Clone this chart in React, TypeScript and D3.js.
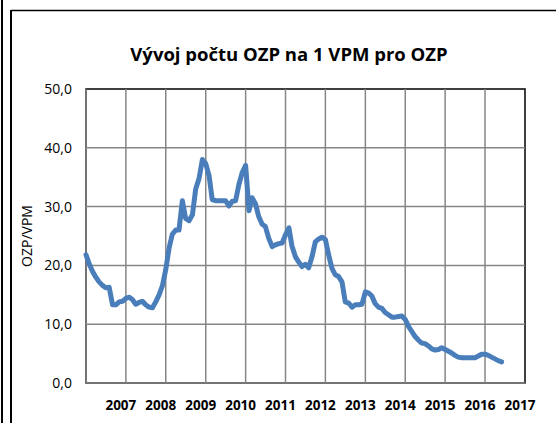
import { useEffect, useRef } from 'react';
import * as d3 from 'd3';

// monthly values, first point = January 2006
const startYear = 2006;
const ratio2006 = [21.8, 20.2, 19.0, 18.0, 17.2, 16.6, 16.2, 16.3, 13.3, 13.3, 13.8, 13.9];
const ratio2007 = [14.4, 14.6, 14.2, 13.4, 13.7, 13.9, 13.3, 12.9, 12.8, 13.8, 15.0, 16.5];
const ratio2008 = [19.3, 23.0, 25.3, 26.0, 26.0, 31.0, 28.0, 27.6, 28.6, 33.0, 34.8, 38.0];
const ratio2009 = [37.3, 35.2, 31.2, 31.0, 31.0, 31.0, 31.0, 30.1, 30.9, 31.0, 33.8, 35.8];
const ratio2010 = [37.0, 29.3, 31.5, 30.5, 28.3, 27.0, 26.6, 24.6, 23.2, 23.5, 23.7, 23.8];
const ratio2011 = [25.2, 26.4, 23.3, 21.5, 20.6, 19.8, 20.2, 19.6, 21.5, 24.0, 24.5, 24.8];
const ratio2012 = [24.4, 21.7, 19.5, 18.4, 18.1, 17.2, 13.8, 13.6, 12.9, 13.3, 13.3, 13.4];
const ratio2013 = [15.5, 15.3, 14.8, 13.5, 12.9, 12.7, 12.0, 11.6, 11.2, 11.2, 11.3, 11.4];
const ratio2014 = [10.8, 9.6, 8.8, 7.9, 7.3, 6.8, 6.7, 6.3, 5.8, 5.6, 5.7, 6.0];
const ratio2015 = [5.7, 5.4, 5.1, 4.7, 4.4, 4.3, 4.3, 4.3, 4.3, 4.3, 4.6, 4.9];
const ratio2016 = [4.9, 4.7, 4.4, 4.1, 3.8, 3.6];

const ratios = [
  ...ratio2006, ...ratio2007, ...ratio2008, ...ratio2009, ...ratio2010, ...ratio2011,
  ...ratio2012, ...ratio2013, ...ratio2014, ...ratio2015, ...ratio2016,
];

const yearLabels = ['2007', '2008', '2009', '2010', '2011', '2012', '2013', '2014', '2015', '2016', '2017'];
const yTicks = [0, 10, 20, 30, 40, 50];

export default function App() {
  const svgRef = useRef<SVGSVGElement>(null);

  useEffect(() => {
    if (!svgRef.current) return;
    const svg = d3.select(svgRef.current);
    svg.selectAll('*').remove();

    const width = 556;
    const height = 423;
    const plot = { left: 86, top: 89, right: 525, bottom: 383 };

    const data = ratios.map((v, i) => ({ date: new Date(startYear, i, 1), value: v }));

    const x = d3
      .scaleTime()
      .domain([new Date(startYear, 0, 1), new Date(2017, 0, 1)])
      .range([plot.left, plot.right]);
    const y = d3.scaleLinear().domain([0, 50]).range([plot.bottom, plot.top]);

    svg.append('rect').attr('width', width).attr('height', height).attr('fill', '#fff');

    // outer frame lines
    svg.append('line').attr('x1', 2).attr('x2', 2).attr('y1', 0).attr('y2', height)
      .attr('stroke', '#000').attr('stroke-width', 2);
    svg.append('line').attr('x1', 11).attr('x2', 11).attr('y1', 10).attr('y2', height)
      .attr('stroke', '#000').attr('stroke-width', 2);
    svg.append('line').attr('x1', 11).attr('x2', width).attr('y1', 10.5).attr('y2', 10.5)
      .attr('stroke', '#000').attr('stroke-width', 1.5);

    // title
    svg.append('text')
      .attr('x', 289)
      .attr('y', 61)
      .attr('text-anchor', 'middle')
      .attr('font-family', 'Open Sans')
      .attr('font-size', '18.5px')
      .attr('font-weight', '700')
      .attr('fill', '#000')
      .text('Vývoj počtu OZP na 1 VPM pro OZP');

    // plot border
    svg.append('rect')
      .attr('x', plot.left).attr('y', plot.top)
      .attr('width', plot.right - plot.left).attr('height', plot.bottom - plot.top)
      .attr('fill', 'none').attr('stroke', '#000').attr('stroke-width', 1.5);

    // grid
    const years = d3.range(2007, 2017).map((yr) => new Date(yr, 0, 1));
    svg.append('g').selectAll('line').data(years).join('line')
      .attr('x1', (d) => x(d)).attr('x2', (d) => x(d))
      .attr('y1', plot.top).attr('y2', plot.bottom)
      .attr('stroke', '#868686').attr('stroke-width', 1.5);
    svg.append('g').selectAll('line').data(yTicks.slice(1, -1)).join('line')
      .attr('x1', plot.left).attr('x2', plot.right)
      .attr('y1', (d) => y(d)).attr('y2', (d) => y(d))
      .attr('stroke', '#868686').attr('stroke-width', 1.5);

    // axis lines
    svg.append('line').attr('x1', plot.left).attr('x2', plot.left).attr('y1', plot.top).attr('y2', plot.bottom)
      .attr('stroke', '#868686').attr('stroke-width', 1.5);
    svg.append('line').attr('x1', plot.left).attr('x2', plot.right).attr('y1', plot.bottom).attr('y2', plot.bottom)
      .attr('stroke', '#868686').attr('stroke-width', 1.5);

    // y tick labels
    svg.append('g').selectAll('text').data(yTicks).join('text')
      .attr('x', 72)
      .attr('y', (d) => y(d))
      .attr('dy', '0.35em')
      .attr('text-anchor', 'end')
      .attr('font-family', 'Open Sans')
      .attr('font-size', '14px')
      .attr('fill', '#000')
      .text((d) => d3.format('.1f')(d).replace('.', ','));

    // x labels
    svg.append('g').selectAll('text').data(yearLabels).join('text')
      .attr('x', (d) => x(new Date(+d, 0, 1)) - 5)
      .attr('y', 410)
      .attr('text-anchor', 'middle')
      .attr('font-family', 'Open Sans')
      .attr('font-size', '13.5px')
      .attr('font-weight', '700')
      .attr('fill', '#000')
      .text((d) => d);

    // y axis title
    svg.append('text')
      .attr('transform', `translate(32,${(plot.top + plot.bottom) / 2}) rotate(-90)`)
      .attr('text-anchor', 'middle')
      .attr('font-family', 'Open Sans')
      .attr('font-size', '14px')
      .attr('fill', '#000')
      .text('OZP/VPM');

    // series
    const line = d3.line<{ date: Date; value: number }>()
      .x((d) => x(d.date))
      .y((d) => y(d.value))
      .curve(d3.curveLinear);

    svg.append('path')
      .datum(data)
      .attr('d', line)
      .attr('fill', 'none')
      .attr('stroke', '#4A7EBB')
      .attr('stroke-width', 5)
      .attr('stroke-linejoin', 'round')
      .attr('stroke-linecap', 'round');
  }, []);

  return (
    <div style={{ position: 'absolute', left: 0, top: 0 }}>
      <svg ref={svgRef} width={556} height={423} style={{ display: 'block' }} />
    </div>
  );
}
